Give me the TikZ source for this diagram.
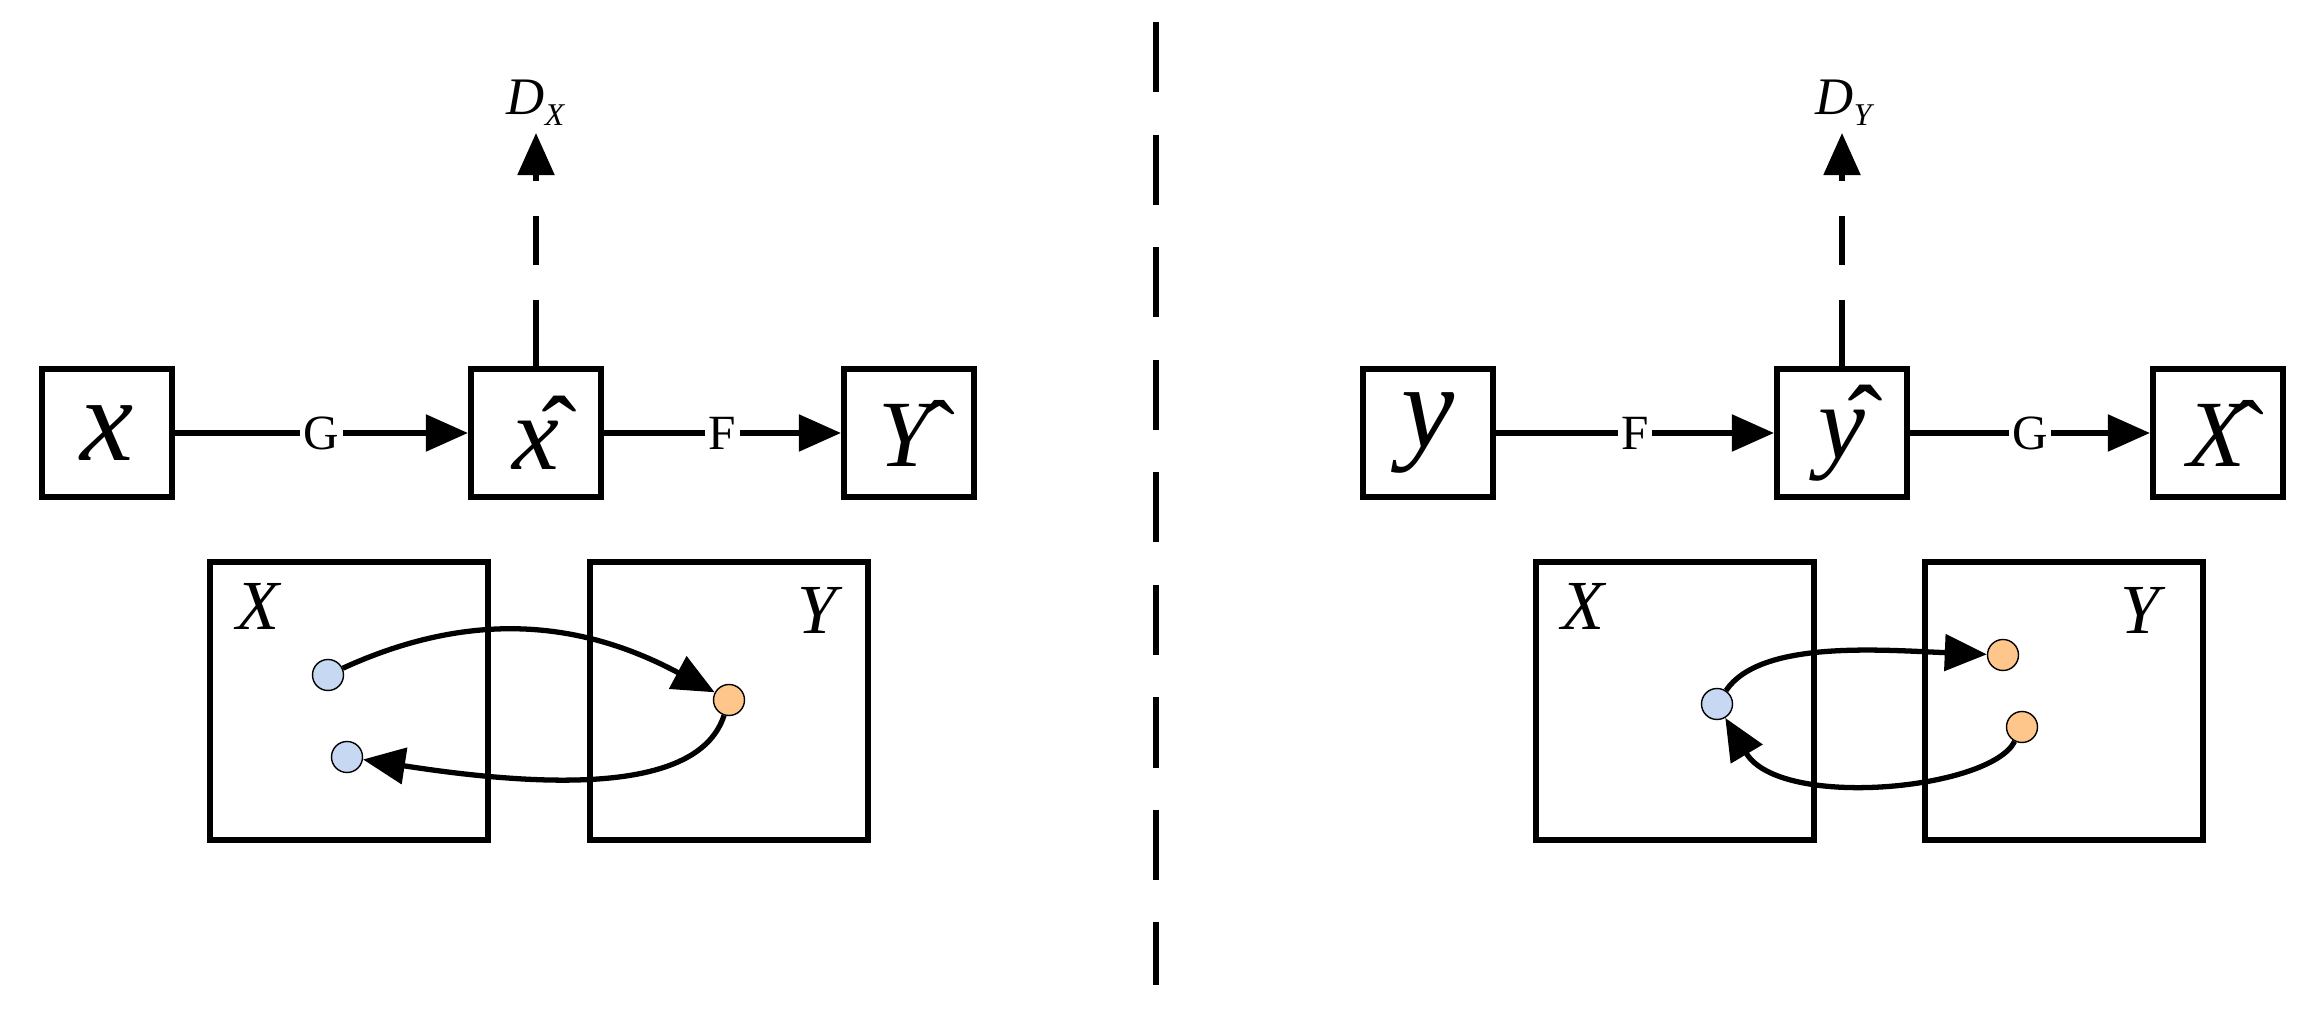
\documentclass[tikz,border=0pt]{standalone}
\usepackage{fontspec}
\setmainfont{Liberation Serif}
\usetikzlibrary{arrows.meta}
\begin{document}
\begin{tikzpicture}[x=0.01cm,y=-0.01cm,
  box/.style={draw,line width=1.7pt,minimum width=1.3cm,minimum height=1.27cm,inner sep=0pt},
  big/.style={box,rectangle,minimum width=2.78cm,minimum height=2.78cm},
  arr/.style={line width=1.5pt,-{Triangle[length=0.42cm,width=0.36cm]}},
  lab/.style={fill=white,inner sep=1pt,font=\fontsize{14}{16}\selectfont},
  dot/.style={circle,draw,line width=0.4pt,minimum size=0.31cm,inner sep=0pt},
  bl/.style={dot,fill=cyan!25!white!85!blue!60},
  og/.style={dot,fill=orange!45}]
\useasboundingbox (0,0) rectangle (2317,1025);
% left
\node[box] (x) at (107,433) {\fontsize{34}{36}\selectfont\textit{x}};
\node[box] (xh) at (536,433) {\fontsize{30}{32}\selectfont\^{\textit{x}}};
\node[box] (Yh) at (909,433) {\fontsize{27}{30}\selectfont\^{\textit{Y}}};
\node (DX) at (536,103) {\fontsize{15}{16}\selectfont\textit{D}\raisebox{-3pt}{\fontsize{9}{10}\selectfont\textit{X}}};
\coordinate (DXt) at (536,133);
\draw[arr] (x) -- node[lab]{G} (xh);
\draw[arr] (xh) -- node[lab]{F} (Yh);
\draw[arr,dash pattern=on 60pt off 0pt] (xh.north) -- (DXt);
\draw[line width=1.7pt,white,dash pattern=on 0pt off 14pt on 10pt off 14pt on 10pt off 14pt] (xh.north) ++(0,-17) -- ++(0,-170);
\node[big] (LX) at (349,701) {};
\node[big] (LY) at (729,701) {};
\node[font=\fontsize{20}{22}\selectfont] at (259,606) {\textit{X}};
\node[font=\fontsize{20}{22}\selectfont] at (820,610) {\textit{Y}};
\node[bl] (b1) at (328,675) {};
\node[bl] (b2) at (347,757) {};
\node[og] (o1) at (729,700) {};
\draw[arr] (b1) .. controls (470,610) and (580,620) .. (o1);
\draw[arr] (o1) .. controls (700,790) and (560,790) .. (b2);
% right
\node[box] (y) at (1428,433) {\fontsize{34}{36}\selectfont\textit{y}};
\node[box] (yh) at (1842,433) {\fontsize{30}{32}\selectfont\^{\textit{y}}};
\node[box] (Xh) at (2218,433) {\fontsize{27}{30}\selectfont\^{\textit{X}}};
\node (DY) at (1845,103) {\fontsize{15}{16}\selectfont\textit{D}\raisebox{-3pt}{\fontsize{9}{10}\selectfont\textit{Y}}};
\coordinate (DYt) at (1842,133);
\draw[arr] (y) -- node[lab]{F} (yh);
\draw[arr] (yh) -- node[lab]{G} (Xh);
\draw[arr] (yh.north) -- (DYt);
\draw[line width=1.7pt,white,dash pattern=on 0pt off 14pt on 10pt off 14pt on 10pt off 14pt] (yh.north) ++(0,-17) -- ++(0,-170);
\node[big] (RX) at (1675,701) {};
\node[big] (RY) at (2064,701) {};
\node[font=\fontsize{20}{22}\selectfont] at (1584,606) {\textit{X}};
\node[font=\fontsize{20}{22}\selectfont] at (2143,610) {\textit{Y}};
\node[bl] (b3) at (1717,704) {};
\node[og] (o2) at (2003,655) {};
\node[og] (o3) at (2022,727) {};
\draw[arr] (b3) .. controls (1760,640) and (1880,650) .. (o2);
\draw[arr] (o3) .. controls (1990,790) and (1780,810) .. (b3);
% divider
\coordinate (d1) at (1156,22);
\coordinate (d2) at (1156,985);
\draw[line width=1.7pt,dash pattern=on 20pt off 12pt] (d1) -- (d2);
\end{tikzpicture}
\end{document}
